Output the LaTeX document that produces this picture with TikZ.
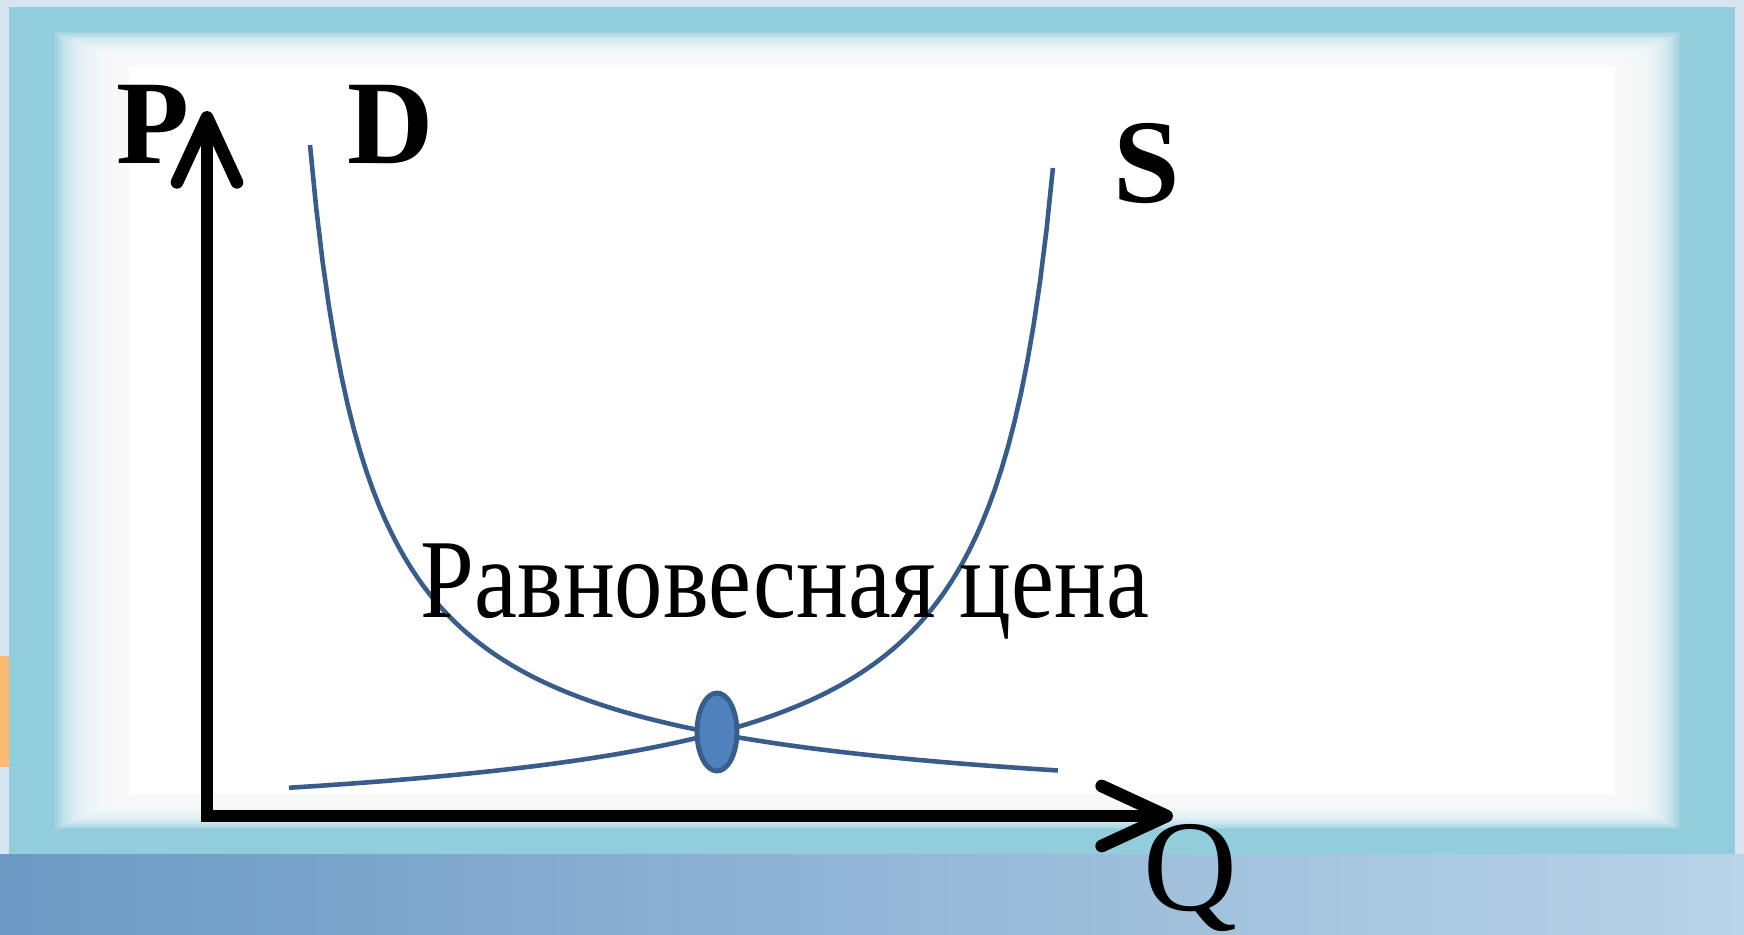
\documentclass[tikz,border=0pt]{standalone}
\usepackage{fontspec}
\setmainfont{Liberation Serif}
\usetikzlibrary{arrows.meta, math}
\definecolor{frameaqua}{RGB}{146,205,220}
\definecolor{curveblue}{RGB}{56,93,138}
\definecolor{dotfill}{RGB}{79,129,189}
\definecolor{bgdark}{RGB}{108,153,196}
\definecolor{bglight}{RGB}{185,211,232}
\definecolor{bgtop}{RGB}{215,229,240}

\begin{document}
\begin{tikzpicture}[
  axis/.style={line width=3.6pt, line join=miter,
    {Straight Barb[round,length=6.5mm,width=6mm]}-{Straight Barb[round,length=6.5mm,width=6mm]}},
  curve/.style={curveblue, line width=1.3pt},
  biglbl/.style={inner sep=0pt, font=\fontsize{34}{40}\selectfont\bfseries},
]
\tikzmath{
\pw=17.44; \ph=9.34;
\xl=0.09; \xr=17.35; \yb=0.80; \yt=9.27;
}
\useasboundingbox (0,0) rectangle (\pw,\ph);

% slide background
\fill[bgtop] (0,0) rectangle (\pw,\ph);
\shade[left color=bgdark, right color=bglight] (0,0) rectangle (\pw,\yb);
\fill[orange!55] (0,1.67) rectangle (\xl,2.78);

% panel with soft frame
\fill[frameaqua] (\xl,\yb) rectangle (\xr,\yt);
\foreach \i in {0,...,29}{
  \fill[white, opacity=0.13] (\xl+0.45+\i*0.0259,\yb+0.25+\i*0.0121) rectangle (\xr-0.55-\i*0.0224,\yt-0.25-\i*0.0121);
}
\fill[white] (\xl+1.2,\yb+0.6) rectangle (\xr-1.2,\yt-0.6);

% axes
\coordinate (O) at (2.07,1.18);
\coordinate (Ptip) at (2.07,8.23);
\coordinate (Qtip) at (11.73,1.18);
\draw[axis] (Ptip) -- (O) -- (Qtip);

% demand and supply
\coordinate (E) at (7.17,2.02);
\draw[curve, domain=3.10:10.58, samples=120] plot (\x,{1.13+4.086/(\x-2.4955)});
\draw[curve, domain=2.89:10.53, samples=120] plot (\x,{0.95+4.24/(11.161-\x)});

\filldraw[fill=dotfill, draw=curveblue, line width=1.4pt] (E) ellipse [x radius=0.2, y radius=0.39];

% labels
\node[biglbl] (lblP) at (1.53,8.10) {P};
\node[biglbl] (lblD) at (3.91,8.10) {D};
\node[biglbl] (lblS) at (11.47,7.70) {S};
\node[inner sep=0pt, anchor=base, font=\fontsize{37}{44}\selectfont] (lblQ) at (11.90,0.24) {Q};
\node[inner sep=0pt, anchor=base, xscale=0.86, font=\fontsize{32}{38}\selectfont] (lblEq) at (7.85,3.17) {Равновесная цена};
\end{tikzpicture}
\end{document}
